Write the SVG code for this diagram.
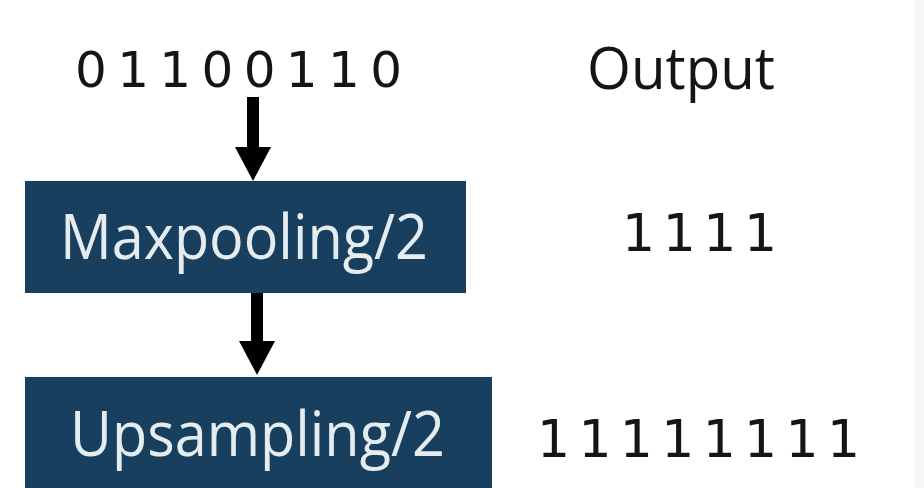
<svg xmlns="http://www.w3.org/2000/svg" width="924" height="488" viewBox="0 0 924 488">
  <style>
    .box { fill: #183f5e; }
    .boxtext { font-family: "Open Sans", "Noto Sans", "Liberation Sans", sans-serif; fill: #e4ecf0; font-size: 62px; }
    .num { font-family: "DejaVu Sans", "Open Sans", "Liberation Sans", sans-serif; fill: #151515; }
    .word { font-family: "Open Sans", "Noto Sans", "Liberation Sans", sans-serif; fill: #151515; }
    .conn { stroke: #000000; stroke-width: 12; fill: none; }
  </style>
  <defs>
    <marker id="head" markerUnits="userSpaceOnUse" viewBox="0 0 34 36" markerWidth="34" markerHeight="36" refX="0" refY="18" orient="auto">
      <path d="M0,0 L34,18 L0,36 Z" fill="#000000"/>
    </marker>
  </defs>
  <rect x="0" y="0" width="924" height="488" fill="#ffffff"/>
  <rect x="914" y="0" width="10" height="488" fill="#f6f6f8"/>

  <g id="input">
    <text class="num" x="75" y="87" font-size="50" textLength="327" lengthAdjust="spacing">0 1 1 0 0 1 1 0</text>
  </g>
  <g id="output-header">
    <text class="word" x="587" y="89" font-size="59" textLength="188" lengthAdjust="spacingAndGlyphs">Output</text>
  </g>

  <g id="maxpooling">
    <rect class="box" x="25" y="181" width="441" height="112"/>
    <text class="boxtext" x="60" y="259" textLength="368" lengthAdjust="spacingAndGlyphs">Maxpooling/2</text>
  </g>
  <g id="maxpool-output">
    <text class="num" x="622" y="251" font-size="52" textLength="155" lengthAdjust="spacing">1 1 1 1</text>
  </g>

  <g id="upsampling">
    <rect class="box" x="25" y="377" width="467" height="111"/>
    <text class="boxtext" x="70" y="456" textLength="375" lengthAdjust="spacingAndGlyphs">Upsampling/2</text>
  </g>
  <g id="upsample-output">
    <text class="num" x="537" y="457" font-size="52" textLength="323" lengthAdjust="spacing">1 1 1 1 1 1 1 1</text>
  </g>

  <g id="connectors">
    <line class="conn" x1="253" y1="97" x2="253" y2="147" marker-end="url(#head)"/>
    <line class="conn" x1="257" y1="293" x2="257" y2="341" marker-end="url(#head)"/>
  </g>
</svg>
